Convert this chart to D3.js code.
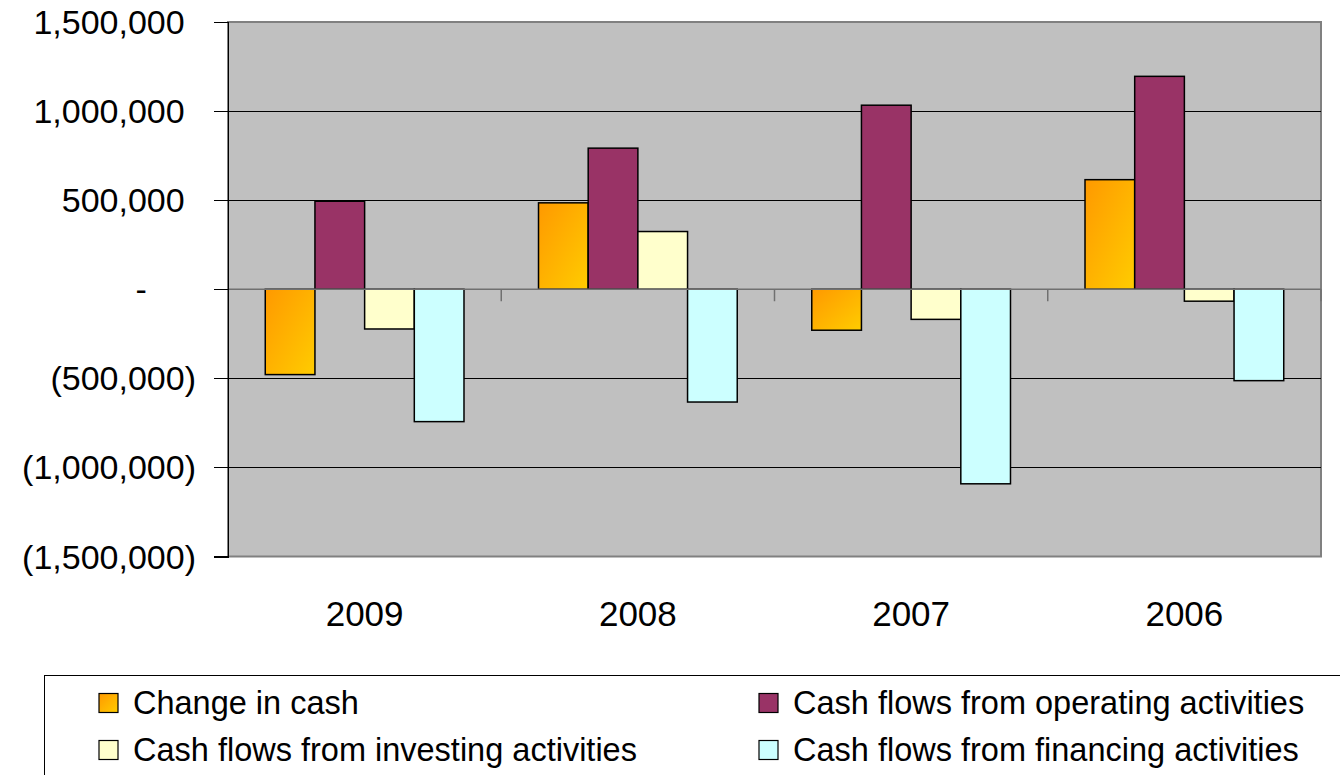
<!DOCTYPE html>
<meta charset="utf-8">
<style>
  body { margin: 0; background: #fff; }
  svg { font-family: "Liberation Sans", Arial, Helvetica, sans-serif; }
  .bar { stroke: #000; stroke-width: 1.5px; }
  .grid line { stroke: #000; stroke-width: 1px; shape-rendering: crispEdges; }
  .y.axis path, .y.axis line { stroke: #000; shape-rendering: crispEdges; }
  .y.axis text { font-size: 34px; fill: #000; }
  .x.axis text { font-size: 35px; fill: #000; }
  .legend text { font-size: 32.5px; fill: #000; }
</style>
<body>
<script src="https://d3js.org/d3.v7.min.js"></script>
<script>

  // data
  var years = ["2009", "2008", "2007", "2006"];
  var seriesNames = ["Change in cash", "Cash flows from operating activities",
                     "Cash flows from investing activities", "Cash flows from financing activities"];
  var changeInCash = [-479000, 485000, -230000, 615000];
  var operating = [494000, 792000, 1033000, 1195000];
  var investing = [-223000, 324000, -169000, -67000];
  var financing = [-743000, -633000, -1092000, -513000];
  var yTicks = [-1500000, -1000000, -500000, 0, 500000, 1000000, 1500000];

  var fills = ["url(#orangeGrad)", "#993366", "#FFFFCC", "#CCFFFF"];
  var allSeries = [changeInCash, operating, investing, financing];

  var W = 1340, H = 775,
      plot = { left: 228, right: 1321, top: 22, bottom: 556.5 };

  var svg = d3.select("body").append("svg")
      .attr("width", W)
      .attr("height", H);

  var grad = svg.append("defs").append("linearGradient")
      .attr("id", "orangeGrad")
      .attr("x1", 0).attr("y1", 0).attr("x2", 1).attr("y2", 1);
  grad.append("stop").attr("offset", "0%").attr("stop-color", "#FF9900");
  grad.append("stop").attr("offset", "100%").attr("stop-color", "#FFCC00");

  var x0 = d3.scaleBand()
      .domain(years)
      .range([plot.left, plot.right])
      .padding(0);

  // excel gap width 150%
  var x1 = d3.scaleBand()
      .domain(d3.range(seriesNames.length))
      .range([0, x0.bandwidth()])
      .paddingInner(0)
      .paddingOuter(0.75);

  var y = d3.scaleLinear()
      .domain([-1500000, 1500000])
      .range([plot.bottom, plot.top]);

  // plot area
  svg.append("rect")
      .attr("x", plot.left)
      .attr("y", plot.top)
      .attr("width", plot.right - plot.left)
      .attr("height", plot.bottom - plot.top)
      .attr("fill", "#C0C0C0")
      .attr("stroke", "#808080")
      .attr("stroke-width", 2);

  svg.append("g")
      .attr("class", "grid")
      .selectAll("line")
      .data(yTicks.filter(function(d) { return d !== 0 && Math.abs(d) < 1500000; }))
      .enter().append("line")
      .attr("x1", plot.left)
      .attr("x2", plot.right)
      .attr("y1", function(d) { return Math.round(y(d)) + 0.5; })
      .attr("y2", function(d) { return Math.round(y(d)) + 0.5; });

  // bars
  var groups = svg.append("g").selectAll("g")
      .data(years)
      .enter().append("g")
      .attr("transform", function(d) { return "translate(" + x0(d) + ",0)"; });

  groups.selectAll("rect")
      .data(function(d, i) {
        return allSeries.map(function(s, k) { return { k: k, v: s[i] }; });
      })
      .enter().append("rect")
      .attr("class", "bar")
      .attr("x", function(d) { return x1(d.k); })
      .attr("width", x1.bandwidth())
      .attr("y", function(d) { return y(Math.max(0, d.v)); })
      .attr("height", function(d) { return Math.abs(y(d.v) - y(0)); })
      .attr("fill", function(d) { return fills[d.k]; });

  // zero line + category ticks
  svg.append("line")
      .attr("x1", plot.left).attr("x2", plot.right)
      .attr("y1", y(0)).attr("y2", y(0))
      .attr("stroke", "#707070")
      .attr("stroke-width", 1.5);

  svg.append("g").selectAll("line")
      .data(years)
      .enter().append("line")
      .attr("x1", function(d) { return x0(d) + x0.bandwidth(); })
      .attr("x2", function(d) { return x0(d) + x0.bandwidth(); })
      .attr("y1", y(0))
      .attr("y2", y(0) + 12)
      .attr("stroke", "#707070")
      .attr("stroke-width", 1.5);

  // y axis, accounting style labels
  var fmt = d3.format(",");
  var yAxis = d3.axisLeft(y)
      .tickValues(yTicks)
      .tickSize(14)
      .tickPadding(18)
      .tickFormat(function(d) {
        if (d === 0) return "-";
        return d < 0 ? "(" + fmt(-d) + ")" : fmt(d);
      });

  var yg = svg.append("g")
      .attr("class", "y axis")
      .attr("transform", "translate(" + plot.left + ",0)")
      .call(yAxis);

  yg.select(".domain").attr("stroke-width", 1.5);
  yg.selectAll("text")
      .attr("dy", "0.34em")
      .attr("dx", function(d) {
        if (d === 0) return "-1.445em";
        return d > 0 ? "-0.333em" : 0;
      });

  // x axis labels
  var xg = svg.append("g")
      .attr("class", "x axis")
      .attr("transform", "translate(0," + plot.bottom + ")")
      .call(d3.axisBottom(x0).tickSize(0).tickPadding(45));
  xg.select(".domain").remove();

  // legend
  var legend = svg.append("g").attr("class", "legend");

  legend.append("rect")
      .attr("x", 44.5)
      .attr("y", 675.5)
      .attr("width", 1400)
      .attr("height", 200)
      .attr("fill", "#fff")
      .attr("stroke", "#000")
      .attr("stroke-width", 1);

  var legendPos = [
    { x: 99, y: 703 },
    { x: 759, y: 703 },
    { x: 99, y: 750 },
    { x: 759, y: 750 }
  ];

  var items = legend.selectAll("g.item")
      .data(seriesNames)
      .enter().append("g")
      .attr("class", "item")
      .attr("transform", function(d, i) {
        return "translate(" + legendPos[i].x + "," + legendPos[i].y + ")";
      });

  items.append("rect")
      .attr("x", 0)
      .attr("y", -9.5)
      .attr("width", 19)
      .attr("height", 19)
      .attr("fill", function(d, i) { return fills[i]; })
      .attr("stroke", "#000")
      .attr("stroke-width", 1.2);

  items.append("text")
      .attr("x", 34)
      .attr("dy", "0.35em")
      .text(function(d) { return d; });

</script>
